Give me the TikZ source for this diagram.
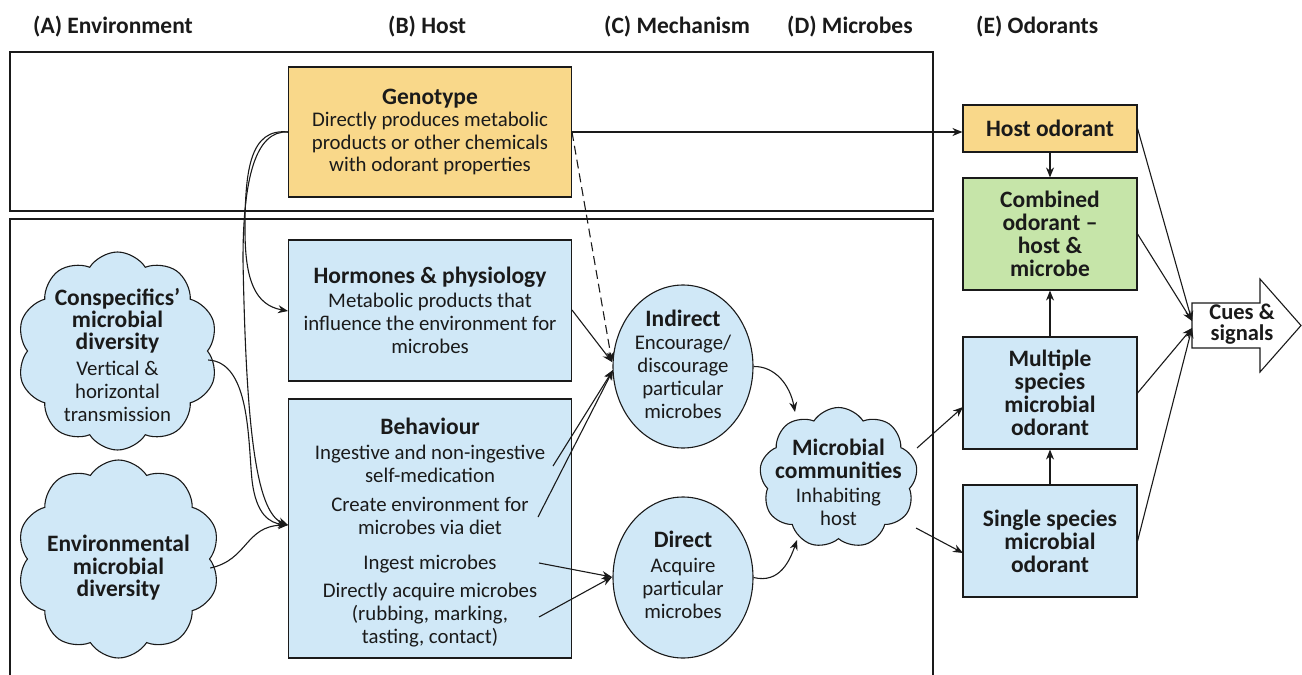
\documentclass[tikz,border=0pt]{standalone}
\usepackage{fontspec}
\setmainfont{Carlito}
\usetikzlibrary{shapes.symbols,shapes.geometric,arrows.meta,calc}
\definecolor{lblue}{HTML}{D0E8F7}
\definecolor{lyellow}{HTML}{F9D88A}
\definecolor{lgreen}{HTML}{C6E5A9}
\definecolor{ink}{HTML}{1A1A1A}
\newcommand{\ttlf}{\fontsize{23.5}{23}\selectfont\bfseries}
\newcommand{\bdyf}{\fontsize{20.8}{23}\selectfont}
\tikzset{
  head/.style={font=\fontsize{23.5}{25}\selectfont\bfseries, text=ink, anchor=west, inner sep=0},
  frame/.style={draw=ink, line width=1.3pt},
  boxnode/.style={draw=ink, line width=1.1pt, rectangle, align=center, inner sep=0, text=ink, font=\bdyf},
  cloudnode/.style={cloud, cloud puffs=10, cloud puff arc=115, draw=ink, line width=1.1pt, fill=lblue, inner sep=0, aspect=1},
  cloudtext/.style={align=center, inner sep=0, text=ink, font=\bdyf},
  ellnode/.style={ellipse, draw=ink, line width=1.1pt, fill=lblue, align=center, inner sep=0, text=ink, font=\bdyf},
  arr/.style={draw=ink, line width=1.1pt, -{Stealth[length=10pt,width=8pt]}},
}
\begin{document}
\begin{tikzpicture}[x=1pt,y=-1pt]
\useasboundingbox (0,0) rectangle (1302,675);
% headings
\node[head] (hA) at (33,27) {(A) Environment};
\node[head] (hB) at (388,27) {(B) Host};
\node[head] (hC) at (604,27) {(C) Mechanism};
\node[head] (hD) at (787,27) {(D) Microbes};
\node[head] (hE) at (976,27) {(E) Odorants};
% frames
\draw[frame] (10,52) rectangle (933,211);
\draw[frame] (10,685) -- (10,219) -- (933,219) -- (933,685);
% host boxes
\node[boxnode, fill=lyellow, minimum width=283, minimum height=130] (geno) at (430,132)
  {{\ttlf Genotype}\\[-0.5pt]Directly produces metabolic\\[-0.5pt]products or other chemicals\\[-0.5pt]with odorant properties};
\node[boxnode, fill=lblue, minimum width=283, minimum height=141] (horm) at (430,310.5)
  {{\ttlf Hormones \& physiology}\\[1pt]Metabolic products that\\influence the environment for\\microbes};
\node[boxnode, fill=lblue, minimum width=283, minimum height=259] (behav) at (430,528.5)
  {\rule{0pt}{25pt}{\ttlf Behaviour}\\[2pt]Ingestive and non-ingestive\\self-medication\\[6pt]Create environment for\\microbes via diet\\[12pt]Ingest microbes\\[5pt]Directly acquire microbes\\(rubbing, marking,\\tasting, contact)};
% environment clouds
\node[cloudnode, minimum width=201, minimum height=198] (consp) at (117.5,351) {};
\node[cloudtext] (conspT) at (117.5,355)
  {{\ttlf Conspecifics’}\\[-1pt]{\ttlf microbial}\\[-1pt]{\ttlf diversity}\\[3pt]Vertical \&\\horizontal\\transmission};
\node[cloudnode, minimum width=203, minimum height=198] (envd) at (118.5,559) {};
\node[cloudtext] (envdT) at (118.5,568)
  {{\ttlf Environmental}\\[-0.5pt]{\ttlf microbial}\\[-0.5pt]{\ttlf diversity}};
% mechanisms
\node[ellnode, minimum width=140, minimum height=163] (indir) at (683,366.5)
  {{\ttlf Indirect}\\Encourage/\\discourage\\particular\\microbes\rule[-4pt]{0pt}{4pt}};
\node[ellnode, minimum width=140, minimum height=161] (direct) at (683,577.5)
  {{\ttlf Direct}\\[2pt]Acquire\\particular\\microbes\rule[-6pt]{0pt}{6pt}};
% microbes
\node[cloudnode, cloud puffs=9, aspect=1.15, minimum width=158, minimum height=141] (mcomm) at (838.5,478) {};
\node[cloudtext] (mcommT) at (838.5,482)
  {{\ttlf Microbial}\\{\ttlf communities}\\[1pt]Inhabiting\\host};
% odorants
\node[boxnode, fill=lyellow, minimum width=174, minimum height=47, font=\ttlf] (hodor) at (1050,128.5) {Host odorant};
\node[boxnode, fill=lgreen, minimum width=174, minimum height=112, font=\ttlf] (comb) at (1050,234) {Combined\\odorant –\\host \&\\microbe};
\node[boxnode, fill=lblue, minimum width=174, minimum height=112, font=\ttlf] (multi) at (1050,393) {Multiple\\species\\microbial\\odorant};
\node[boxnode, fill=lblue, minimum width=174, minimum height=112, font=\ttlf] (single) at (1050,541) {Single species\\microbial\\odorant};
% cues arrow
\draw[draw=ink, line width=1.1pt, fill=white] (1192,303) -- (1260,303) -- (1260,279) -- (1301,325.5) -- (1260,372) -- (1260,348) -- (1192,348) -- cycle;
\node[font=\fontsize{22.5}{21}\selectfont\bfseries, text=ink, align=center, inner sep=0] (cues) at (1242,324) {Cues \&\\signals};
\coordinate (cuesA) at (1192,321);
\coordinate (cuesB) at (1192,328);
% helper coordinates
\coordinate (genoR) at (572,132);
\coordinate (genoL) at (288,132);
\coordinate (hormR) at (572,310);
\coordinate (inA) at (612,362);
\coordinate (inB) at (613,370);
\coordinate (b1) at (553,466);
\coordinate (b2) at (538,517);
\coordinate (b3) at (539,563);
\coordinate (b4) at (539,617);
\coordinate (dirIn) at (612,577);
\coordinate (behIn) at (288,525);
\coordinate (hormIn) at (288,311);
% connectors
\draw[arr] (genoR) -- (hodor.west |- genoR);
\draw[arr, dashed, dash pattern=on 9pt off 5pt] (genoR) -- (inA);
\draw[arr] (genoL) .. controls (250,128) and (245,170) .. (245,230) .. controls (245,280) and (255,305) .. (hormIn);
\draw[arr] (genoL) .. controls (255,130) and (243,180) .. (243,260) .. controls (246,420) and (255,512) .. (behIn);
\draw[arr] (consp.east |- 0,360) .. controls (250,362) and (248,440) .. (252,480) .. controls (256,515) and (270,523) .. (behIn);
\draw[arr] (envd.east |- 0,568) .. controls (248,560) and (245,526) .. (behIn);
\draw[arr] (hormR) -- (inA);
\draw[arr] (b1) -- (inB);
\draw[arr] (b2) -- (inB);
\draw[arr] (b3) -- (dirIn);
\draw[arr] (b4) -- (dirIn);
\draw[arr] (indir.east) .. controls (775,366) and (790,385) .. (795,412);
\draw[arr] (direct.east) .. controls (780,584) and (790,560) .. (797,540);
\draw[arr] (917,448) -- (963,407);
\draw[arr] (916,528) -- (963,553);
\draw[arr] (hodor.south) -- (comb.north);
\draw[arr] (multi.north) -- (comb.south);
\draw[arr] (single.north) -- (multi.south);
\draw[arr] (hodor.east) -- (cuesA);
\draw[arr] (comb.east) -- (cuesA);
\draw[arr] (multi.east) -- (cuesB);
\draw[arr] (single.east) -- (cuesB);
\end{tikzpicture}
\end{document}
